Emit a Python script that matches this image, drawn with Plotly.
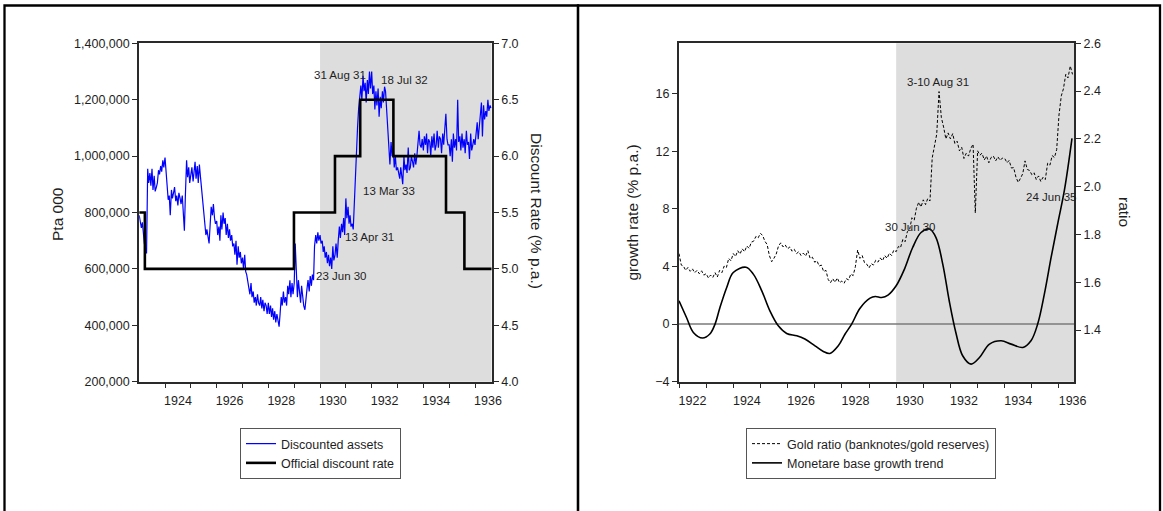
import pandas as pd
import plotly.graph_objects as go

W, H = 1163, 511

# ---------------- Left panel data ----------------
# Discounted assets (Pta 000, in thousands), semi-monthly readings from Jan 1923
assets_k = [
    790, 770, 745, 765, 720, 690, 665, 655, 955, 905, 940, 895,          # 1923
    955, 880, 930, 875, 890, 905, 950, 935, 965, 945, 985, 960,
    995, 950, 870, 845, 860, 790, 880, 850, 870, 890, 840, 860,          # 1924
    825, 870, 850, 830, 860, 780, 735, 860, 985, 925, 960, 905,
    935, 960, 910, 950, 980, 920, 965, 905, 970, 930, 880, 850,          # 1925
    800, 760, 720, 740, 700, 690, 760, 820, 790, 830, 780, 760,
    770, 720, 750, 700, 790, 740, 800, 760, 780, 720, 760, 710,          # 1926
    740, 700, 720, 680, 690, 650, 700, 615, 680, 640, 660, 620,
    640, 600, 650, 590, 580, 560, 540, 510, 550, 500, 520, 480,          # 1927
    500, 470, 510, 480, 470, 500, 460, 490, 450, 480, 470, 440,
    480, 440, 470, 430, 460, 420, 450, 410, 440, 420, 395, 440,          # 1928
    500, 470, 520, 480, 500, 470, 540, 510, 560, 500, 550, 510,
    550, 690, 540, 500, 560, 520, 480, 540, 500, 470, 455, 500,          # 1929
    530, 560, 520, 575, 540, 580, 560, 680, 720, 690, 730, 700,
    720, 690, 700, 660, 680, 640, 660, 620, 650, 610, 640, 600,          # 1930
    680, 630, 650, 690, 640, 700, 750, 710, 760, 730, 780, 720,
    850, 780, 820, 760, 790, 750, 760, 740, 850, 920, 1010, 1100,        # 1931
    1170, 1210, 1250, 1200, 1285, 1230, 1260, 1190, 1270, 1220, 1300, 1240,
    1300, 1220, 1250, 1165, 1230, 1180, 1240, 1140, 1210, 1170, 1230, 1190,  # 1932
    1246, 1230, 1150, 1090, 1040, 970, 1050, 1000, 1030, 960, 1000, 950,
    960, 940, 920, 960, 930, 900, 1000, 950, 970, 940, 1030, 950,        # 1933
    960, 1000, 980, 960, 1010, 970, 1000, 1060, 1090, 1040, 1030, 1060,
    1020, 1070, 1040, 1080, 1010, 1060, 1050, 1000, 1070, 1030, 1080, 1020,  # 1934
    1040, 1090, 1030, 1070, 1060, 1010, 1080, 1040, 1090, 1150, 1060, 1040,
    1040, 1000, 1060, 980, 1080, 1030, 1060, 1020, 1200, 1050, 1070, 1020,   # 1935
    1080, 1030, 1060, 1010, 1090, 1040, 1050, 990, 1080, 1020, 1040, 1060,
    1040, 1080, 1120, 1060, 1100, 1150, 1190, 1070, 1180, 1130, 1160, 1140,  # 1936
    1200, 1160, 1180, 1170,
]
assets_dates = pd.date_range("1923-01-01", periods=len(assets_k), freq="SMS")

# Official discount rate (% p.a.), step changes
rate_dates = ["1923-01-01", "1923-03-22", "1928-12-28", "1930-07-31", "1931-07-23",
              "1932-11-03", "1934-11-17", "1935-08-04", "1936-08-24"]
rate_vals = [5.5, 5.0, 5.5, 6.0, 6.5, 6.0, 5.5, 5.0, 5.0]

left_ticks = [200, 400, 600, 800, 1000, 1200, 1400]
left_ticktext = ["200,000", "400,000", "600,000", "800,000", "1,000,000", "1,200,000", "1,400,000"]
rate_ticks = [4.0, 4.5, 5.0, 5.5, 6.0, 6.5, 7.0]

left_years = ["1924", "1926", "1928", "1930", "1932", "1934", "1936"]
left_year_starts = [str(y) + "-01-01" for y in range(1924, 1937)]

left_notes = ["31 Aug 31", "18 Jul 32", "13 Mar 33", "13 Apr 31", "23 Jun 30"]
left_note_x = ["1930-10-10", "1933-04-08", "1932-09-03", "1931-12-01", "1930-11-07"]
left_note_y = [1288, 1270, 876, 713, 575]

# ---------------- Right panel data ----------------
# Gold ratio (banknotes / gold reserves), monthly readings from Jan 1922
gold_ratio = [
    1.720, 1.672, 1.668, 1.650, 1.662, 1.646, 1.656, 1.640, 1.650, 1.636, 1.648, 1.630,  # 1922
    1.636, 1.618, 1.630, 1.620, 1.640, 1.622, 1.650, 1.640, 1.668, 1.662, 1.700, 1.690,  # 1923
    1.720, 1.708, 1.732, 1.718, 1.740, 1.728, 1.752, 1.742, 1.768, 1.772, 1.792, 1.786,  # 1924
    1.805, 1.795, 1.772, 1.758, 1.712, 1.686, 1.700, 1.718, 1.752, 1.765, 1.748, 1.756,  # 1925
    1.740, 1.748, 1.730, 1.738, 1.720, 1.728, 1.712, 1.722, 1.710, 1.732, 1.700, 1.705,  # 1926
    1.684, 1.690, 1.668, 1.672, 1.645, 1.650, 1.612, 1.598, 1.615, 1.600, 1.618, 1.598,  # 1927
    1.605, 1.596, 1.615, 1.610, 1.635, 1.628, 1.665, 1.735, 1.700, 1.712, 1.682, 1.676,  # 1928
    1.660, 1.678, 1.672, 1.692, 1.684, 1.702, 1.690, 1.712, 1.700, 1.722, 1.712, 1.735,  # 1929
    1.728, 1.750, 1.745, 1.780, 1.770, 1.812, 1.820, 1.870, 1.860, 1.910, 1.935, 1.915,  # 1930
    1.945, 1.925, 1.950, 1.940, 2.120, 2.175, 2.220, 2.398, 2.290, 2.250, 2.200, 2.225,  # 1931
    2.200, 2.222, 2.180, 2.190, 2.150, 2.165, 2.118, 2.140, 2.128, 2.160, 2.178, 1.890,  # 1932
    2.150, 2.132, 2.140, 2.112, 2.128, 2.100, 2.122, 2.128, 2.108, 2.125, 2.110, 2.120,  # 1933
    2.118, 2.100, 2.110, 2.078, 2.080, 2.040, 2.018, 2.035, 2.055, 2.108, 2.072, 2.068,  # 1934
    2.050, 2.058, 2.030, 2.045, 2.022, 2.040, 2.030, 2.098, 2.090, 2.130, 2.122, 2.155,  # 1935
    2.300, 2.380, 2.410, 2.470, 2.455, 2.505, 2.470,                                     # 1936
]
gold_dates = pd.date_range("1922-01-01", periods=len(gold_ratio), freq="MS")

# Monetary base growth trend (% p.a.)
growth_dates = [
    "1922-01-01", "1922-04-12", "1922-07-13", "1922-11-14", "1923-02-20", "1923-05-01",
    "1923-07-06", "1923-10-05", "1924-01-01", "1924-06-20", "1924-09-27", "1925-01-19",
    "1925-05-08", "1925-08-29", "1925-12-20", "1926-05-05", "1926-08-22", "1927-01-05",
    "1927-04-27", "1927-07-24", "1927-11-14", "1928-02-14", "1928-05-12", "1928-09-02",
    "1929-01-15", "1929-03-26", "1929-06-21", "1929-09-13", "1930-01-01", "1930-04-23",
    "1930-08-11", "1930-12-02", "1931-03-26", "1931-06-21", "1931-09-20", "1931-12-16",
    "1932-03-14", "1932-06-14", "1932-10-05", "1933-01-26", "1933-06-10", "1933-11-14",
    "1934-03-29", "1934-09-02", "1934-12-20", "1935-03-20", "1935-06-18", "1935-09-17",
    "1935-12-16", "1936-03-14", "1936-06-24",
]
growth_vals = [
    1.62, 0.46, -0.58, -0.97, -0.69, 0.0,
    1.15, 2.54, 3.58, 3.95, 3.47, 2.31,
    0.92, -0.12, -0.65, -0.81, -1.04, -1.51,
    -1.90, -2.04, -1.51, -0.69, 0.0, 1.10,
    1.80, 1.92, 1.85, 2.01, 2.66, 3.82,
    5.32, 6.36, 6.60, 6.01, 4.17, 1.62,
    -0.58, -2.20, -2.78, -2.32, -1.39, -1.16,
    -1.39, -1.62, -1.16, 0.0, 2.08, 4.63,
    7.00, 9.30, 12.90,
]

growth_ticks = [-4, 0, 4, 8, 12, 16]
ratio_ticks = [1.4, 1.6, 1.8, 2.0, 2.2, 2.4, 2.6]
right_years = ["1922", "1924", "1926", "1928", "1930", "1932", "1934", "1936"]
right_year_starts = [str(y) + "-01-01" for y in range(1922, 1937)]

right_notes = ["3-10 Aug 31", "24 Jun 35", "30 Jun 30"]
right_note_x = ["1931-07-22", "1935-09-20", "1930-07-13"]
right_note_y = [16.83, 8.86, 6.71]

# ---------------- Styling ----------------
FONT = "Liberation Sans, Arial, sans-serif"
TXT = "#1e1e1e"
AX = "#2a2a2a"
TICK_SIZE = 12.5

plot_top = 1 - 43.3 / H
plot_bot = 1 - 381.7 / H

fig = go.Figure()
fig.add_trace(go.Scatter(x=assets_dates, y=assets_k, mode="lines", name="Discounted assets",
                         line=dict(color="#0000ff", width=1.2), xaxis="x", yaxis="y",
                         legend="legend"))
fig.add_trace(go.Scatter(x=rate_dates, y=rate_vals, mode="lines", name="Official discount rate",
                         line=dict(color="black", width=2.6, shape="hv"), xaxis="x", yaxis="y2",
                         legend="legend"))
fig.add_trace(go.Scatter(x=gold_dates, y=gold_ratio, mode="lines",
                         name="Gold ratio (banknotes/gold reserves)",
                         line=dict(color="black", width=1, dash="3px,2px"), xaxis="x2", yaxis="y4",
                         legend="legend2"))
fig.add_trace(go.Scatter(x=growth_dates, y=growth_vals, mode="lines",
                         name="Monetare base growth trend",
                         line=dict(color="black", width=1.6, shape="spline", smoothing=1.0),
                         xaxis="x2", yaxis="y3", legend="legend2"))


def mid_year(y):
    return y + "-07-02"


xcommon = dict(type="date", showline=True, linecolor=AX, linewidth=1.5, mirror=True,
               showgrid=False, zeroline=False, ticks="outside", ticklen=7, automargin=False,
               tickcolor="rgba(0,0,0,0)", tickfont=dict(family=FONT, size=TICK_SIZE, color=TXT))
ycommon = dict(showline=True, linecolor=AX, linewidth=2, showgrid=False, zeroline=False,
               ticks="outside", ticklen=5, tickwidth=1.2, tickcolor=AX, automargin=False,
               tickfont=dict(family=FONT, size=TICK_SIZE, color=TXT))

fig.update_layout(
    width=W, height=H, autosize=False,
    margin=dict(l=0, r=0, t=0, b=0, pad=0),
    paper_bgcolor="white", plot_bgcolor="white",
    showlegend=True,
    xaxis=dict(domain=[139.2 / W, 491.7 / W], anchor="y",
               range=["1923-01-01", "1936-08-24"],
               tickmode="array", tickvals=[mid_year(y) for y in left_years], ticktext=left_years,
               minor=dict(tickmode="array", tickvals=left_year_starts, ticks="outside", ticklen=5,
                          tickcolor=AX, tickwidth=1.2),
               **xcommon),
    yaxis=dict(domain=[plot_bot, plot_top], anchor="x", range=[200, 1400],
               tickmode="array", tickvals=left_ticks, ticktext=left_ticktext, **ycommon),
    yaxis2=dict(domain=[plot_bot, plot_top], anchor="x", overlaying="y", side="right",
                range=[4.0, 7.0], tickmode="array", tickvals=rate_ticks, tickformat=".1f",
                **ycommon),
    xaxis2=dict(domain=[679 / W, 1074 / W], anchor="y3",
                range=["1922-01-01", "1936-07-21"],
                tickmode="array", tickvals=[mid_year(y) for y in right_years], ticktext=right_years,
                minor=dict(tickmode="array", tickvals=right_year_starts, ticks="outside", ticklen=5,
                           tickcolor=AX, tickwidth=1.2),
                **xcommon),
    yaxis3=dict(domain=[plot_bot, plot_top], anchor="x2", range=[-4, 19.5],
                tickmode="array", tickvals=growth_ticks, **ycommon),
    yaxis4=dict(domain=[plot_bot, plot_top], anchor="x2", overlaying="y3", side="right",
                range=[1.184, 2.6], tickmode="array", tickvals=ratio_ticks, tickformat=".1f",
                **ycommon),
    legend=dict(x=240 / W, y=1 - 428 / H, xanchor="left", yanchor="top",
                bgcolor="white", bordercolor="#555", borderwidth=1,
                font=dict(family=FONT, size=12.5, color=TXT), itemwidth=30, tracegroupgap=0),
    legend2=dict(x=746 / W, y=1 - 428 / H, xanchor="left", yanchor="top",
                 bgcolor="white", bordercolor="#555", borderwidth=1,
                 font=dict(family=FONT, size=12.5, color=TXT), itemwidth=30, tracegroupgap=0),
)

shapes = [
    # shaded period from 1930 onwards
    dict(type="rect", xref="x", yref="y domain", x0="1930-01-01", x1="1936-08-24", y0=0, y1=1,
         fillcolor="#dddddd", line=dict(width=0), layer="below"),
    dict(type="rect", xref="x2", yref="y3 domain", x0="1930-01-01", x1="1936-07-21", y0=0, y1=1,
         fillcolor="#dddddd", line=dict(width=0), layer="below"),
    # zero line on the growth axis
    dict(type="line", xref="x2 domain", yref="y3", x0=0, x1=1, y0=0, y1=0,
         line=dict(color="#7a7a7a", width=1.5), layer="below"),
    # panel frames
    dict(type="rect", xref="paper", yref="paper", x0=4.5 / W, x1=578 / W, y0=-0.05, y1=1 - 5.5 / H,
         line=dict(color="black", width=2.3), fillcolor="rgba(0,0,0,0)"),
    dict(type="rect", xref="paper", yref="paper", x0=578 / W, x1=1160 / W, y0=-0.05, y1=1 - 5.5 / H,
         line=dict(color="black", width=2.3), fillcolor="rgba(0,0,0,0)"),
]
fig.update_layout(shapes=shapes)

annotations = []
for t, x, y in zip(left_notes, left_note_x, left_note_y):
    annotations.append(dict(text=t, x=x, y=y, xref="x", yref="y", showarrow=False,
                            xanchor="center", yanchor="middle",
                            font=dict(family=FONT, size=11.5, color=TXT)))
for t, x, y in zip(right_notes, right_note_x, right_note_y):
    annotations.append(dict(text=t, x=x, y=y, xref="x2", yref="y3", showarrow=False,
                            xanchor="center", yanchor="middle",
                            font=dict(family=FONT, size=11.5, color=TXT)))

titles = [
    ("Pta 000", 57, 214, -90),
    ("Discount Rate (% p.a.)", 537, 211, 90),
    ("growth rate (% p.a.)", 632, 212.5, -90),
    ("ratio", 1125, 212, 90),
]
for t, px, py, ang in titles:
    annotations.append(dict(text=t, x=px / W, y=1 - py / H, xref="paper", yref="paper",
                            showarrow=False, textangle=ang, xanchor="center", yanchor="middle",
                            font=dict(family=FONT, size=15.5, color=TXT)))
fig.update_layout(annotations=annotations)

# remove the default page margin so the figure fills the window exactly
page_fix = (
    "var s=document.createElement('style');"
    "s.textContent='html,body{margin:0!important;padding:0!important;overflow:hidden!important;}';"
    "document.head.appendChild(s);"
)

fig.write_html("out.html", config={"displayModeBar": False}, post_script=page_fix)
